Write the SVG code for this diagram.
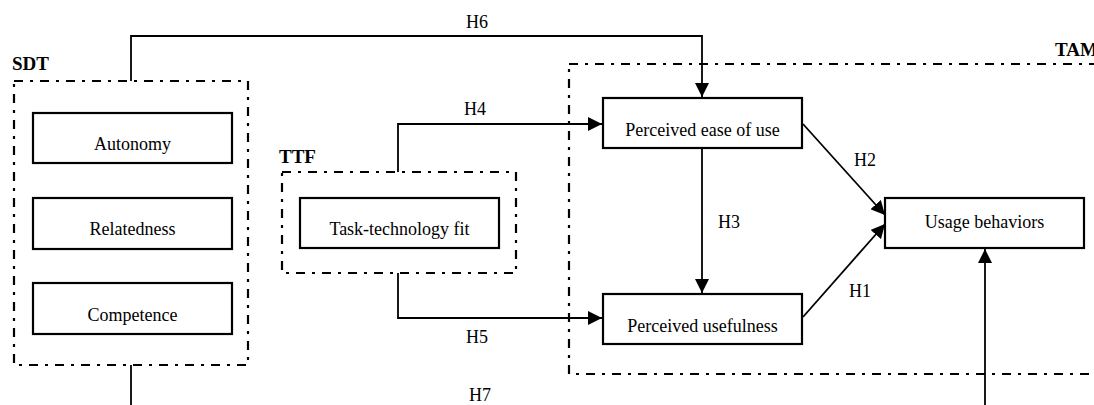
<svg xmlns="http://www.w3.org/2000/svg" width="1094" height="405" viewBox="0 0 1094 405">
<style>
.bg{fill:#fff}
.frame{fill:none;stroke:#000;stroke-width:2.2;stroke-dasharray:9 7 3 7}
.box{fill:#fff;stroke:#000;stroke-width:2.2}
.t{font-family:"Liberation Serif","Times New Roman",serif;font-size:18px;fill:#000;text-anchor:middle}
.lbl{font-family:"Liberation Serif","Times New Roman",serif;font-size:19px;font-weight:bold;fill:#000}
.ln{fill:none;stroke:#000;stroke-width:1.8}
</style>
<defs>
<marker id="arr" viewBox="0 0 14 14" refX="14" refY="7" markerWidth="14" markerHeight="14" markerUnits="userSpaceOnUse" orient="auto">
<path d="M0,0 L14,7 L0,14 Z" fill="#000"/>
</marker>
</defs>
<rect class="bg" x="0" y="0" width="1094" height="405"/>
<g id="frames">
<g id="sdt-frame"><rect class="frame" x="14" y="81" width="234" height="284"/><text class="lbl" x="12" y="70">SDT</text></g>
<g id="ttf-frame"><rect class="frame" x="282" y="172" width="234" height="101"/><text class="lbl" x="279" y="163">TTF</text></g>
<g id="tam-frame"><rect class="frame" x="569" y="64" width="560" height="310"/><text class="lbl" x="1055" y="56">TAM</text></g>
</g>
<g id="connectors">
<path class="ln" d="M131,81 V36 H702 V97" marker-end="url(#arr)"/>
<path class="ln" d="M398,172 V124 H602" marker-end="url(#arr)"/>
<path class="ln" d="M398,273 V318 H602" marker-end="url(#arr)"/>
<path class="ln" d="M702,148 V293" marker-end="url(#arr)"/>
<path class="ln" d="M803,124 L885,215" marker-end="url(#arr)"/>
<path class="ln" d="M803,317 L885,224" marker-end="url(#arr)"/>
<path class="ln" d="M131,365 V410"/>
<path class="ln" d="M985,410 V249" marker-end="url(#arr)"/>
<text class="t" x="477" y="28">H6</text>
<text class="t" x="475" y="115">H4</text>
<text class="t" x="477" y="343">H5</text>
<text class="t" x="729" y="228">H3</text>
<text class="t" x="865" y="166">H2</text>
<text class="t" x="860" y="297">H1</text>
<text class="t" x="480" y="401">H7</text>
</g>
<g id="autonomy"><rect class="box" x="33" y="113" width="199" height="50"/><text class="t" x="132.5" y="150">Autonomy</text></g>
<g id="relatedness"><rect class="box" x="33" y="198" width="199" height="51"/><text class="t" x="132.5" y="235">Relatedness</text></g>
<g id="competence"><rect class="box" x="33" y="283" width="199" height="51"/><text class="t" x="132.5" y="321">Competence</text></g>
<g id="ttf"><rect class="box" x="300" y="198" width="199" height="50"/><text class="t" x="399.5" y="235">Task-technology fit</text></g>
<g id="peou"><rect class="box" x="603" y="98" width="199" height="50"/><text class="t" x="702.5" y="136">Perceived ease of use</text></g>
<g id="pu"><rect class="box" x="603" y="294" width="199" height="50"/><text class="t" x="702.5" y="332">Perceived usefulness</text></g>
<g id="usage"><rect class="box" x="885" y="198" width="199" height="50"/><text class="t" x="984.5" y="228">Usage behaviors</text></g>
</svg>
